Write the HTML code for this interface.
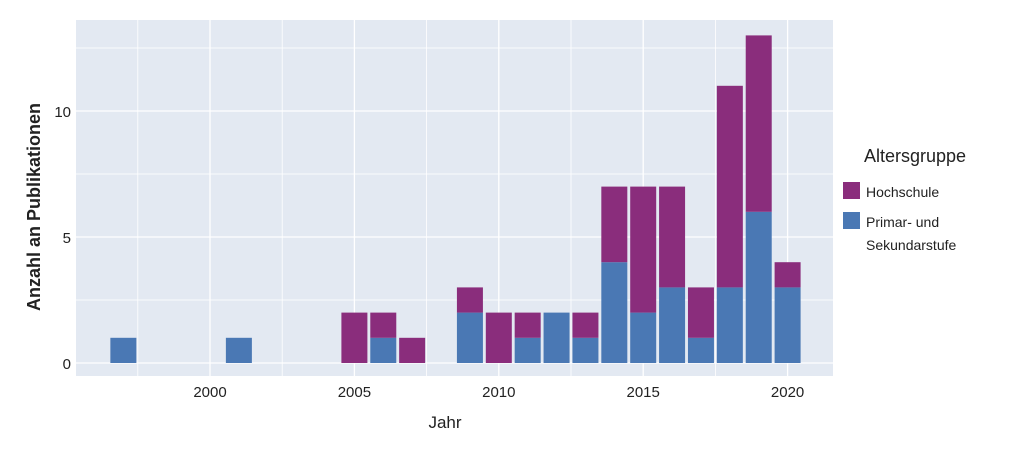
<!DOCTYPE html>
<html><head><meta charset="utf-8"><style>
body{margin:0;background:#fff;}
svg{display:block;font-family:"Liberation Sans",sans-serif;}
</style></head><body>
<svg id="c" width="1009" height="449">
<rect x="76" y="20" width="757" height="356" fill="#e3e9f2"/>
<g id="grid"></g><g id="bars"></g><g id="ticks"></g>
<text x="445" y="428" font-size="17" text-anchor="middle" fill="#222">Jahr</text>
<text transform="translate(40,207) rotate(-90)" font-size="18" text-anchor="middle" fill="#222" font-weight="bold">Anzahl an Publikationen</text>
<g>
<text x="864" y="162" font-size="18" fill="#222">Altersgruppe</text>
<g><rect x="843" y="182" width="17" height="17" fill="#8a2d7c"/><text x="866" y="197" font-size="14" fill="#222">Hochschule</text></g>
<g><rect x="843" y="212" width="17" height="17" fill="#4a78b4"/><text x="866" y="227" font-size="14" fill="#222">Primar- und</text><text x="866" y="250" font-size="14" fill="#222">Sekundarstufe</text></g>
</g>
</svg>
<script>
const years=[1997,2001,2005,2006,2007,2009,2010,2011,2012,2013,2014,2015,2016,2017,2018,2019,2020];
const primar=[1,1,0,1,0,2,0,1,2,1,4,2,3,1,3,6,3];
const hochschule=[0,0,2,1,1,1,2,1,0,1,3,5,4,2,8,7,1];
const xTicks=[2000,2005,2010,2015,2020];
const yTicks=[0,5,10];
const NS="http://www.w3.org/2000/svg";
const X=v=>210+(v-2000)*28.88;
const Y=v=>363-v*25.2;
function mk(t,a,p){const e=document.createElementNS(NS,t);for(const k in a)e.setAttribute(k,a[k]);document.getElementById(p).appendChild(e);return e;}
for(let v=1997.5;v<=2022.5;v+=2.5){const x=X(v);if(x<76||x>833)continue;
const l=mk('line',{x1:x,x2:x,y1:20,y2:376,stroke:'#fff','stroke-width':Number.isInteger(v)?1.3:0.8},'grid');

}
for(let v=0;v<=12.5;v+=2.5){const y=Y(v);
const l=mk('line',{x1:76,x2:833,y1:y,y2:y,stroke:'#fff','stroke-width':Number.isInteger(v)?1.3:0.8},'grid');

}
const w=26;
years.forEach((yr,i)=>{
 const x=X(yr)-w/2;
 if(primar[i]>0){const r=mk('rect',{x:x,y:Y(primar[i]),width:w,height:Y(0)-Y(primar[i]),fill:'#4a78b4'},'bars');
 
 }
 if(hochschule[i]>0){const t=primar[i]+hochschule[i];const r=mk('rect',{x:x,y:Y(t),width:w,height:Y(primar[i])-Y(t),fill:'#8a2d7c'},'bars');
 
 }
});
xTicks.forEach(v=>{const t=mk('text',{x:X(v),y:397,'font-size':15,'text-anchor':'middle',fill:'#222'},'ticks');t.textContent=v;

});
yTicks.forEach(v=>{const t=mk('text',{x:71,y:Y(v)+6,'font-size':15,'text-anchor':'end',fill:'#222'},'ticks');t.textContent=v;

});
</script>
</body></html>
